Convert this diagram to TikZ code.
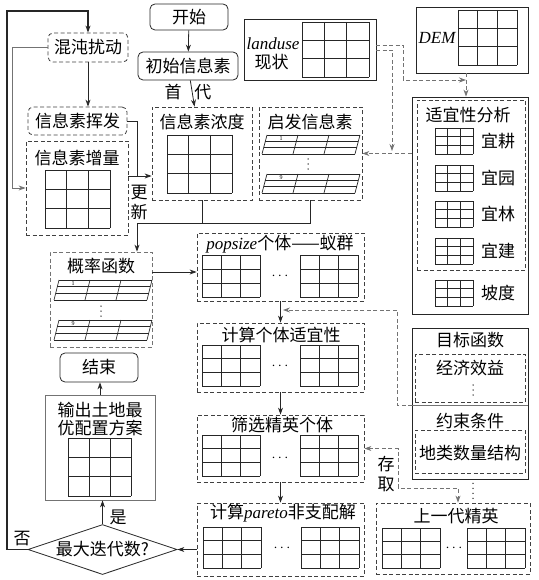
\documentclass[tikz,border=0pt]{standalone}
\usepackage{fontspec}
\setmainfont{Noto Sans CJK SC}
\newfontfamily\latinfont{Liberation Serif}
\newcommand{\en}[1]{{\latinfont\itshape #1}}
\usetikzlibrary{positioning, arrows.meta, shapes.geometric}

% 3x3 cell grid: top-left x, top-left y, width, height
\newcommand{\cellgrid}[4]{%
  \foreach \k in {0,1,2,3}{
    \draw[gridline] ({#1+\k*#3/3},{#2}) -- ({#1+\k*#3/3},{#2+#4});
    \draw[gridline] ({#1},{#2+\k*#4/3}) -- ({#1+#3},{#2+\k*#4/3});
  }}
% slanted layer grid: bottom-left x, top y, width, height, layer number
\newcommand{\slantgrid}[5]{%
  \foreach \k in {0,1,2,3}{
    \draw[gridline] ({#1+5+\k*#3/3},{#2}) -- ({#1+\k*#3/3},{#2+#4});
    \draw[gridline] ({#1+5-5*\k/3},{#2+\k*#4/3}) -- ({#1+5-5*\k/3+#3},{#2+\k*#4/3});
  }
  \node (layer-#1-#2) [digit] at ({#1+19},{#2+3.5}) {#5};}

\tikzset{
  every node/.style={font=\fontsize{17}{20}\selectfont, inner sep=0pt},
  solidbox/.style={draw=black!85, line width=0.8pt},
  roundbox/.style={draw=black!85, line width=0.8pt, rounded corners=5pt},
  dashbox/.style={draw=black!75, line width=0.8pt, dash pattern=on 4pt off 2.5pt},
  dashround/.style={dashbox, rounded corners=5pt},
  gridline/.style={draw=black!85, line width=0.7pt},
  plain/.style={draw=black!85, line width=0.8pt},
  link/.style={plain, -{Stealth[length=7pt,width=5pt]}},
  greylink/.style={link, draw=black!55},
  dashline/.style={draw=black!55, line width=0.8pt, dash pattern=on 4pt off 2.5pt},
  dashlink/.style={dashline, -{Stealth[length=7pt,width=5pt]}},
  loopline/.style={link, line width=1.2pt},
  digit/.style={font=\fontsize{6}{6}\selectfont\latinfont},
  dots/.style={font=\fontsize{14}{14}\selectfont},
  vdotline/.style={draw=black!85, line width=1.5pt, line cap=round, dash pattern=on 0pt off 5pt},
}

\begin{document}
\begin{tikzpicture}[x=1pt, y=-1pt]
    \useasboundingbox (0,0) rectangle (538,580);

    % Start and pheromone initialisation
    \node (start) [roundbox, minimum width=78pt, minimum height=26pt] at (189,17) {开始};
    \node (init) [roundbox, minimum width=100pt, minimum height=28pt] at (188,66) {初始信息素};
    \node (chaos) [dashround, minimum width=80pt, minimum height=29pt] at (88,47.5) {混沌扰动};
    \node (evap) [dashround, minimum width=99pt, minimum height=28pt] at (77.5,121) {信息素挥发};

    \node (incr) [dashbox, minimum width=102pt, minimum height=94pt] at (77,188) {};
    \node (incr-t) at (77,158) {信息素增量};
    \cellgrid{45}{170}{65}{58}

    \node (conc) [dashbox, minimum width=100pt, minimum height=93pt] at (202,153.5) {};
    \node (conc-t) at (202,122) {信息素浓度};
    \cellgrid{167}{135}{65}{58}

    \node (heur) [dashbox, minimum width=103pt, minimum height=93pt] at (310.5,153.5) {};
    \node (heur-t) at (310,122) {启发信息素};
    \slantgrid{262}{135}{93}{19}{1}
    \draw[vdotline] (308,159) -- (308,169);
    \slantgrid{262}{174}{93}{19}{9}

    \node (prob) [dashbox, draw=black!55, minimum width=102pt, minimum height=95pt] at (101,299.5) {};
    \node (prob-t) at (101,266) {概率函数};
    \slantgrid{54}{280}{93}{20}{1}
    \draw[vdotline] (101,306) -- (101,316);
    \slantgrid{54}{320}{93}{20}{9}

    % Land use and DEM inputs
    \node (landuse) [solidbox, minimum width=132pt, minimum height=61pt] at (310,49.5) {};
    \node (landuse-t) at (273,44) {\en{landuse}};
    \node (landuse-s) at (271.5,62) {现状};
    \cellgrid{302}{22}{67}{55}

    \node (dem) [solidbox, minimum width=112pt, minimum height=66pt] at (472,40) {};
    \node (dem-t) at (437,38) {\en{DEM}};
    \cellgrid{458}{10}{59}{55}

    % Suitability analysis
    \node (suit) [solidbox, minimum width=116pt, minimum height=217pt] at (470,205.5) {};
    \node (suit-in) [dashbox, minimum width=108pt, minimum height=170pt] at (471,185) {};
    \node (suit-t) at (468,115) {适宜性分析};
    \foreach \lab/\yy in {宜耕/141, 宜园/178, 宜林/214, 宜建/251, 坡度/293}{
        \cellgrid{435}{\yy-13}{38}{26}
        \node (suit-\yy) at (498,\yy) {\lab};
    }

    % Objective and constraints
    \node (goal) [solidbox, minimum width=116pt, minimum height=151pt] at (470,403.5) {};
    \node (goal-t) at (470,340) {目标函数};
    \node (econ) [dashbox, minimum width=110pt, minimum height=48pt] at (470,378) {};
    \node (econ-t) at (470,368) {经济效益};
    \draw[vdotline] (473,385) -- (473,395);
    \coordinate (gdiv) at (412,405);
    \draw[plain, draw=black!55] (gdiv) -- (gdiv -| goal.east);
    \node (cons-t) at (470,421) {约束条件};
    \node (cons) [dashbox, minimum width=110pt, minimum height=43pt] at (470,451.5) {};
    \node (cons-s) at (470,453) {地类数量结构};

    % Ant colony
    \node (pop) [dashbox, minimum width=167pt, minimum height=68pt] at (280.5,267) {};
    \node (pop-t) at (280,244) {\en{popsize}个体——蚁群};
    \cellgrid{202}{255}{58}{42}
    \cellgrid{300}{255}{58}{42}
    \node (pop-d) [dots] at (280,276) {$\cdots$};

    \node (fit) [dashbox, minimum width=167pt, minimum height=69pt] at (280.5,357.5) {};
    \node (fit-t) at (281,335) {计算个体适宜性};
    \cellgrid{202}{345}{58}{41}
    \cellgrid{300}{345}{58}{41}
    \node (fit-d) [dots] at (280,366) {$\cdots$};

    \node (sel) [dashbox, minimum width=167pt, minimum height=67pt] at (280.5,448.5) {};
    \node (sel-t) at (282,425) {筛选精英个体};
    \cellgrid{202}{435}{58}{41}
    \cellgrid{300}{435}{58}{41}
    \node (sel-d) [dots] at (280,458) {$\cdots$};

    \node (pareto) [dashbox, minimum width=167pt, minimum height=73pt] at (280.5,539.5) {};
    \node (pareto-t) at (283,513) {计算\en{pareto}非支配解};
    \cellgrid{203}{527}{58}{41}
    \cellgrid{301}{527}{58}{41}
    \node (pareto-d) [dots] at (282,548) {$\cdots$};

    \node (elite) [dashbox, minimum width=154pt, minimum height=71pt] at (453,538.5) {};
    \node (elite-t) at (456,516) {上一代精英};
    \cellgrid{382}{528}{58}{40}
    \cellgrid{467}{528}{58}{40}
    \node (elite-d) [dots] at (454,548) {$\cdots$};

    % Output
    \node (dia) [diamond, aspect=3, draw=black!85, line width=0.8pt, minimum width=149pt, minimum height=50pt] at (102.5,549.5) {最大迭代数?};
    \node (out) [solidbox, draw=black!55, minimum width=110pt, minimum height=105pt] at (100,447.5) {};
    \node (out-t) [align=center, font=\fontsize{17}{18}\selectfont] at (100,419) {输出土地最\\优配置方案};
    \cellgrid{68}{438}{63}{58}
    \node (finish) [roundbox, minimum width=78pt, minimum height=29pt] at (99,367.5) {结束};

    % Labels
    \node (gen1) at (188,92) {首\hspace{0.75em}代};
    \node (upd-t) [align=center] at (139,202) {更\\新};
    \node (acc-t) [align=center] at (386,474.5) {存\\取};
    \node (yes) at (118,517) {是};
    \node (no) at (22,539) {否};

    % Connectors
    \draw[link] (start) -- (init);
    \draw[link] (init) -- (conc);
    \coordinate (loopcorner) at (7,11);
    \draw[loopline] (dia.west) -| (loopcorner) -| (chaos.north);
    \draw[greylink] (chaos.west) -- ++(-35,0) |- (incr.west);
    \draw[link] (chaos.south) -- (chaos.south |- evap.north);
    \coordinate (upd) at (137,176);
    \draw[plain] (evap.east) -| (upd);
    \draw[plain] (incr.east |- upd) -- (upd);
    \draw[link] (upd) -- (upd -| conc.west);
    \coordinate (mrg) at (137,223);
    \draw[plain] (conc.south) -- (conc.south |- mrg);
    \draw[link] (heur.south) |- (mrg) -- (mrg |- prob.north);
    \coordinate (p1) at (152,272);
    \draw[link] (p1) -- (p1 -| pop.west);
    \draw[link] (pop) -- (fit);
    \draw[link] (fit) -- (sel);
    \draw[link] (sel) -- (pareto);
    \draw[link] (pareto.west |- dia.east) -- (dia.east);
    \draw[link] (dia.north) -- (dia.north |- out.south);
    \draw[link] (out.north) -- (out.north |- finish.south);

    % Dashed data flows
    \coordinate (lu1) at (376,45);
    \coordinate (lu2) at (376,50);
    \coordinate (j1) at (466,80);
    \draw[dashlink] (lu1) -- ++(27,0) |- (j1);
    \draw[dashlink] (dem.south -| j1) -- (suit.north -| j1);
    \draw[dashlink] (suit.west |- heur.east) -- (heur.east);
    \draw[dashlink] (lu2) -- ++(16,0) -- ++(0,101);
    \coordinate (pf) at (283,310);
    \draw[dashlink] (gdiv) -- ++(-15,0) |- (pf);
    \coordinate (cq) at (398,488);
    \draw[dashline, {Stealth[length=7pt,width=5pt]}-{Stealth[length=7pt,width=5pt]}] (sel.east) -| (cq) -| ([xshift=5pt]elite.north);
    \draw[vdotline] (goal.south -| 473,0) ++(0,4) -- ++(0,15);
\end{tikzpicture}
\end{document}
